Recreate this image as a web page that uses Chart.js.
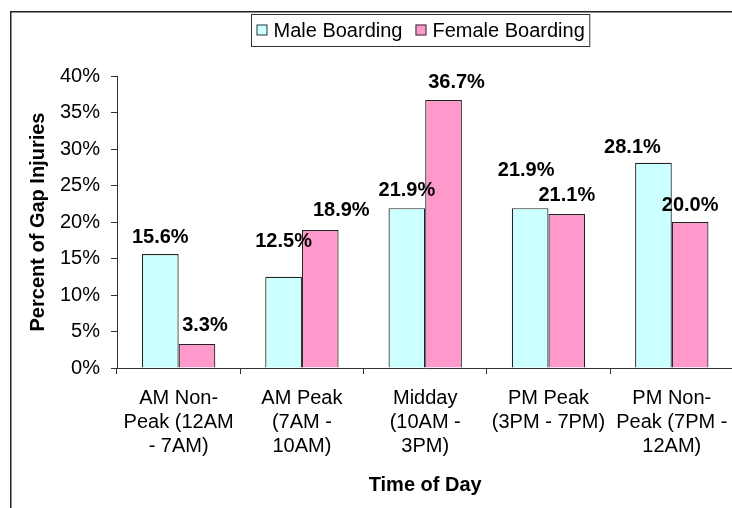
<!DOCTYPE html>
<html>
<head>
<meta charset="utf-8">
<script src="https://cdn.jsdelivr.net/npm/chart.js@4/dist/chart.umd.min.js"></script>
<style>
  html, body { margin: 0; padding: 0; background: #fff; overflow: hidden; }
  #wrap { width: 740px; height: 508px; }
</style>
</head>
<body>
<div id="wrap"><canvas id="gap-chart" width="740" height="508"></canvas></div>
<script>
var timeLabels = [
    ['AM Non-', 'Peak (12AM', '- 7AM)'],
    ['AM Peak', '(7AM -', '10AM)'],
    ['Midday', '(10AM -', '3PM)'],
    ['PM Peak', '(3PM - 7PM)'],
    ['PM Non-', 'Peak (7PM -', '12AM)']
];
var maleBoarding = [15.6, 12.5, 21.9, 21.9, 28.1];
var femaleBoarding = [3.3, 18.9, 36.7, 21.1, 20.0];

// label nudges (px) relative to the top of each bar, like the hand-placed labels in the original
var maleNudgeX = [0, 0, 0, -4, -21];
var maleNudgeY = [-17, -35, -18, -38, -15];
var femaleNudgeX = [8, 21, 13, 0, 0];
var femaleNudgeY = [-18, -20, -18, -18, -17];

var font = 'Liberation Sans, Arial, sans-serif';
var ink = '#222';

var frameAndLegend = {
    id: 'frameAndLegend',
    afterDraw: function(chart) {
        var ctx = chart.ctx;
        ctx.save();
        // outer chart frame (left and top edges are visible)
        ctx.strokeStyle = ink;
        ctx.lineWidth = 1.5;
        ctx.beginPath();
        ctx.moveTo(10.75, 600);
        ctx.lineTo(10.75, 11.75);
        ctx.lineTo(800, 11.75);
        ctx.stroke();

        // legend with a box round it
        ctx.font = '20px ' + font;
        var sets = chart.data.datasets;
        var sw = 12, gap = 5, between = 13, pad = 5;
        var widths = sets.map(function(d) { return ctx.measureText(d.label).width; });
        var total = pad * 2 + between;
        widths.forEach(function(w) { total += sw + gap + w; });
        var cx = 420, top = 14.5, h = 32;
        var x = Math.round(cx - total / 2) + 0.5;
        ctx.lineWidth = 1;
        ctx.strokeStyle = '#333';
        ctx.strokeRect(x, top, total, h);
        var mid = top + h / 2;
        var px = x + pad;
        ctx.textBaseline = 'middle';
        ctx.textAlign = 'left';
        sets.forEach(function(d, i) {
            ctx.fillStyle = d.backgroundColor;
            ctx.fillRect(px, mid - 6, sw - 1, 11);
            ctx.strokeStyle = '#333';
            ctx.strokeRect(px + 0.5, mid - 5.5, sw - 2, 10);
            px += sw + gap;
            ctx.fillStyle = '#000';
            ctx.fillText(d.label, px, mid + 1);
            px += widths[i] + between;
        });

        // value labels above bars
        ctx.font = 'bold 20px ' + font;
        ctx.textAlign = 'center';
        ctx.fillStyle = '#000';
        var nudges = [[maleNudgeX, maleNudgeY], [femaleNudgeX, femaleNudgeY]];
        sets.forEach(function(d, i) {
            chart.getDatasetMeta(i).data.forEach(function(bar, j) {
                var txt = d.data[j].toFixed(1) + '%';
                ctx.fillText(txt, bar.x + nudges[i][0][j], bar.y + nudges[i][1][j]);
            });
        });
        ctx.restore();
    }
};

var ctx = document.getElementById('gap-chart').getContext('2d');
var gapChart = new Chart(ctx, {
    type: 'bar',
    data: {
        labels: timeLabels,
        datasets: [{
            label: 'Male Boarding',
            data: maleBoarding,
            backgroundColor: '#CCFFFF',
            borderColor: '#222',
            borderWidth: 1.2
        }, {
            label: 'Female Boarding',
            data: femaleBoarding,
            backgroundColor: '#FF99CC',
            borderColor: '#222',
            borderWidth: 1.2
        }]
    },
    options: {
        responsive: false,
        animation: false,
        layout: { padding: { top: 76, right: 6.5, left: 0, bottom: 0 } },
        datasets: { bar: { categoryPercentage: 0.595, barPercentage: 1 } },
        plugins: {
            legend: { display: false },
            tooltip: { enabled: false }
        },
        scales: {
            x: {
                grid: { drawOnChartArea: false, tickLength: 6, color: '#333', offset: true },
                border: { color: '#333', width: 1 },
                ticks: {
                    color: '#000', padding: 12, maxRotation: 0, autoSkip: false,
                    font: { family: font, size: 20, lineHeight: 1.2 }
                },
                title: {
                    display: true, text: 'Time of Day', color: '#000',
                    font: { family: font, size: 20, weight: 'bold', lineHeight: 1.2 },
                    padding: { top: 4, bottom: 11 }
                },
                afterFit: function(scale) { scale.height = 140; }
            },
            y: {
                min: 0,
                max: 40,
                grid: { drawOnChartArea: false, tickLength: 6, color: '#333' },
                border: { color: '#333', width: 1 },
                ticks: {
                    stepSize: 5, color: '#000', padding: 11,
                    font: { family: font, size: 20 },
                    callback: function(v) { return v + '%'; }
                },
                title: {
                    display: true, text: 'Percent of Gap Injuries', color: '#000',
                    font: { family: font, size: 20, weight: 'bold', lineHeight: 1.2 },
                    padding: { top: 26, bottom: 0 }
                },
                afterFit: function(scale) { scale.width = 117; }
            }
        }
    },
    plugins: [frameAndLegend]
});
</script>
</body>
</html>
